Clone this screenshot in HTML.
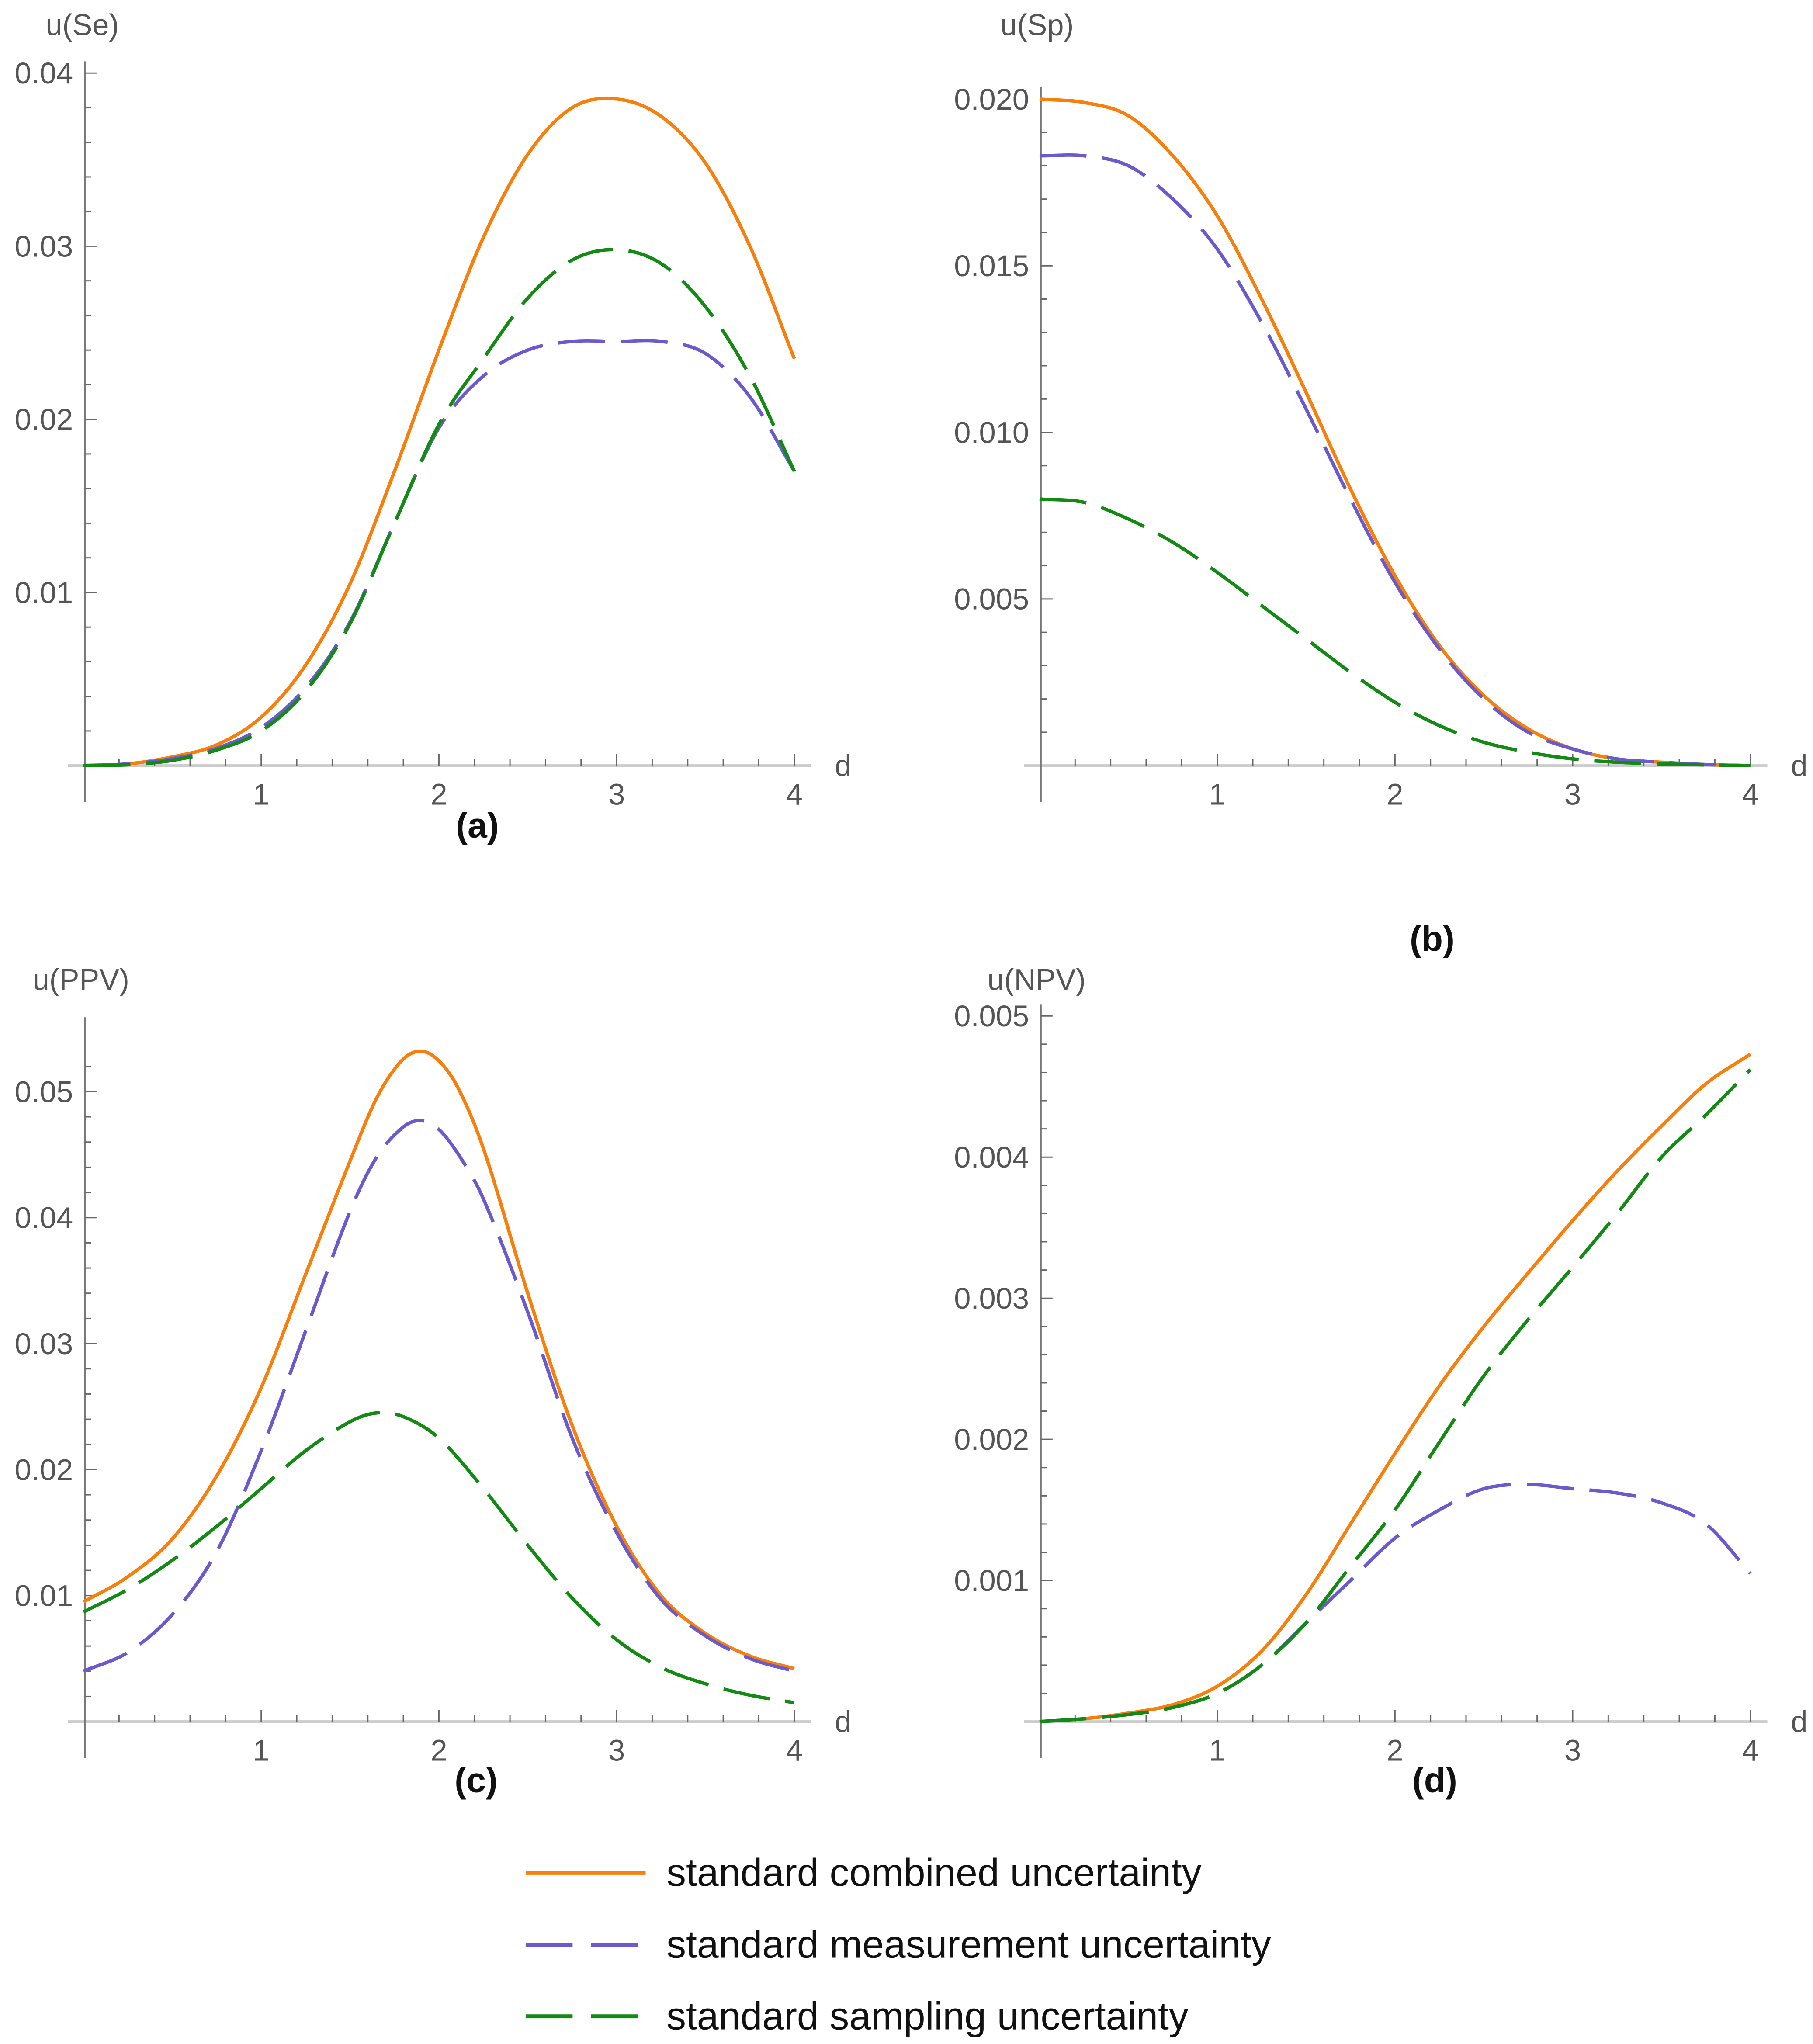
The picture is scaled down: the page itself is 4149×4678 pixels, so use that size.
<!DOCTYPE html>
<html><head><meta charset="utf-8"><style>
html,body{margin:0;padding:0;background:#fff}
svg{display:block}
text{font-family:"Liberation Sans",sans-serif}
</style></head><body>
<svg id="chart" width="4149" height="4678" viewBox="0 0 1390 1567.2" xmlns="http://www.w3.org/2000/svg">
<g id="root"></g>
<g>
  <line x1="403" y1="1436" x2="495" y2="1436" stroke="#f97f0c" stroke-width="3"/>
  <text x="511" y="1446" font-size="30" fill="#111">standard combined uncertainty</text>
  <line x1="403" y1="1491" x2="495" y2="1491" stroke="#6a5acd" stroke-width="3" stroke-dasharray="36,14"/>
  <text x="511" y="1501" font-size="30" fill="#111">standard measurement uncertainty</text>
  <line x1="403" y1="1546" x2="495" y2="1546" stroke="#138a13" stroke-width="3" stroke-dasharray="36,14"/>
  <text x="511" y="1556" font-size="30" fill="#111">standard sampling uncertainty</text>
</g>
</svg>
<script>
// ---- data ----
const dGrid = [0,0.25,0.5,0.75,1,1.25,1.5,1.75,2,2.25,2.5,2.75,3,3.25,3.5,3.75,4];
const seCombined = [0,0.0001,0.0005,0.0012,0.0028,0.0058,0.0105,0.0170,0.0240,0.0305,0.0353,0.0380,0.0385,0.0375,0.0348,0.0300,0.0235];
const seMeasure  = [0,0.0001,0.0004,0.0010,0.0022,0.0045,0.0083,0.0140,0.0195,0.0225,0.0240,0.0245,0.0245,0.0245,0.0238,0.0213,0.0170];
const seSampling = [0,0.00005,0.0003,0.0009,0.0020,0.0043,0.0082,0.0140,0.0197,0.0235,0.0270,0.0292,0.0298,0.0290,0.0265,0.0225,0.0170];
const spCombined = [0.0200,0.0199,0.0195,0.0183,0.0165,0.0140,0.0112,0.0083,0.0057,0.0036,0.0021,0.0011,0.0005,0.0002,0.0001,0.00003,0];
const spMeasure  = [0.0183,0.0183,0.0180,0.0170,0.0155,0.0133,0.0107,0.0080,0.0055,0.0035,0.0020,0.0010,0.0005,0.0002,0.0001,0.00003,0];
const spSampling = [0.0080,0.0079,0.0074,0.0067,0.0058,0.0048,0.0038,0.0028,0.0019,0.0012,0.0007,0.0004,0.0002,0.0001,0.00005,0.00002,0];
const ppvDComb = [0,0.25,0.5,0.75,1,1.25,1.5,1.65,1.78,1.88,1.98,2.1,2.25,2.5,2.75,3,3.25,3.5,3.75,4];
const ppvCombined = [0.0095,0.0115,0.0145,0.0195,0.0265,0.0355,0.0445,0.0495,0.0523,0.0532,0.0527,0.0505,0.0455,0.0340,0.0235,0.0155,0.0100,0.0070,0.0052,0.0042];
const ppvDMeas = [0,0.25,0.5,0.75,1,1.25,1.5,1.65,1.8,1.9,2,2.12,2.25,2.5,2.75,3,3.25,3.5,3.75,4];
const ppvMeasure = [0.0040,0.0055,0.0085,0.0135,0.0215,0.0310,0.0405,0.0448,0.0472,0.0477,0.0470,0.0448,0.0415,0.0325,0.0225,0.0150,0.0097,0.0068,0.0050,0.0040];
const ppvDSamp = [0,0.25,0.5,0.75,1,1.25,1.5,1.65,1.8,2,2.25,2.5,2.75,3,3.25,3.5,3.75,4];
const ppvSampling = [0.0087,0.0105,0.0128,0.0155,0.0185,0.0215,0.0238,0.0245,0.0242,0.0225,0.0185,0.0140,0.0098,0.0065,0.0043,0.0030,0.0021,0.0015];
const npvCombined = [0,0.00002,0.00006,0.00012,0.00025,0.0005,0.0009,0.0014,0.0019,0.00238,0.0028,0.00318,0.00355,0.0039,0.00422,0.00452,0.00473];
const npvMeasure  = [0,0.00002,0.00005,0.0001,0.0002,0.0004,0.0007,0.0010,0.0013,0.0015,0.00165,0.00168,0.00165,0.00162,0.00155,0.0014,0.00105];
const npvSampling = [0,0.00002,0.00005,0.0001,0.0002,0.0004,0.0007,0.0011,0.0015,0.00198,0.00245,0.00285,0.00322,0.0036,0.0040,0.0043,0.00462];
const xTicks = [1,2,3,4];
const seTicks = [0.01,0.02,0.03,0.04];
const spTicks = [0.005,0.010,0.015,0.020];
const ppvTicks = [0.01,0.02,0.03,0.04,0.05];
const npvTicks = [0.001,0.002,0.003,0.004,0.005];

const NS = "http://www.w3.org/2000/svg";
const root = document.getElementById('root');
const COL = {c:"#f97f0c", m:"#6a5acd", s:"#138a13"};

function mk(tag, parent, attrs){
  const e = document.createElementNS(NS, tag);
  for (const k in attrs) e.setAttribute(k, attrs[k]);
  parent.appendChild(e);
  return e;
}
function smoothPath(pts){
  let d = "M" + pts[0][0].toFixed(2) + "," + pts[0][1].toFixed(2);
  for (let i=0;i<pts.length-1;i++){
    const p0 = pts[Math.max(0,i-1)], p1 = pts[i], p2 = pts[i+1], p3 = pts[Math.min(pts.length-1,i+2)];
    const h = p2[0]-p1[0];
    const s1 = (p2[1]-p0[1])/((p2[0]-p0[0])||1), s2 = (p3[1]-p1[1])/((p3[0]-p1[0])||1);
    const c1 = [p1[0]+h/3, p1[1]+s1*h/3];
    const c2 = [p2[0]-h/3, p2[1]-s2*h/3];
    d += " C"+c1[0].toFixed(2)+","+c1[1].toFixed(2)+" "+c2[0].toFixed(2)+","+c2[1].toFixed(2)+" "+p2[0].toFixed(2)+","+p2[1].toFixed(2);
  }
  return d;
}

function panel(cfg){
  const g = mk('g', root, {});
  
  
  const sx = d => cfg.x0 + d*cfg.xu;
  const sy = v => cfg.y0 - v/cfg.vmax*(cfg.y0-cfg.yTop);
  const xa = mk('line', g, {x1:cfg.x0-12, y1:cfg.y0, x2:sx(4)+13, y2:cfg.y0, stroke:"#cccccc", "stroke-width":2});
  
  
  for (let i=1;i<=20;i++){
    const major = i%5===0;
    const t = mk('line', g, {x1:sx(i*0.2), y1:cfg.y0, x2:sx(i*0.2), y2:cfg.y0-(major?9:5), stroke:"#666", "stroke-width":1});
    
    
  }
  xTicks.forEach(v=>{
    const t = mk('text', g, {x:sx(v), y:cfg.y0+30, "font-size":23, fill:"#555", "text-anchor":"middle"});
    t.textContent = String(v);
    
    
  });
  const dl = mk('text', g, {x:sx(4)+31, y:cfg.y0+8, "font-size":23, fill:"#555"});
  dl.textContent = "d";
  
  
  const ya = mk('line', g, {x1:cfg.x0+1, y1:cfg.yAxTop, x2:cfg.x0+1, y2:cfg.y0+28, stroke:"#777", "stroke-width":1.3});
  
  
  const step = cfg.yticks[0]/cfg.minorPer;
  for (let v=step; v<=cfg.vmax*1.05+1e-12; v+=step){
    const idx = Math.round(v/step);
    const major = idx%cfg.minorPer===0;
    const yy = sy(idx*step);
    if (yy < cfg.yAxTop) continue;
    const t = mk('line', g, {x1:cfg.x0+1, y1:yy, x2:cfg.x0+1+(major?9:5), y2:yy, stroke:"#666", "stroke-width":1});
    
    
  }
  cfg.yticks.forEach(v=>{
    const t = mk('text', g, {x:cfg.x0-8, y:sy(v)+8, "font-size":23, fill:"#555", "text-anchor":"end"});
    t.textContent = v.toFixed(cfg.dec);
    
    
  });
  const yt = mk('text', g, {x:cfg.titleX, y:cfg.titleY, "font-size":23, fill:"#555"});
  yt.textContent = cfg.title;
  
  
  const lb = mk('text', g, {x:cfg.labX, y:cfg.labY, "font-size":27, "font-weight":"bold", fill:"#111", "text-anchor":"middle"});
  lb.textContent = cfg.label;
  
  
  cfg.series.forEach(s=>{
    const pts = s.d.map((d,i)=>[sx(d), sy(s.v[i])]);
    const p = mk('path', g, {d:smoothPath(pts), fill:"none", stroke:COL[s.k], "stroke-width":2.6, "stroke-linejoin":"round"});
    if (s.k!=='c') p.setAttribute('stroke-dasharray', '36,12');
    
    
  });
}

panel({name:"panel-a-se", x0:64, xu:136.25, y0:587, yTop:56, vmax:0.04, yAxTop:47, yticks:seTicks, minorPer:5, dec:2,
  title:"u(Se)", titleX:35, titleY:27, label:"(a)", labX:366, labY:642,
  series:[{k:'c',d:dGrid,v:seCombined,name:'line-combined'},{k:'m',d:dGrid,v:seMeasure,name:'line-measurement'},{k:'s',d:dGrid,v:seSampling,name:'line-sampling'}]});
panel({name:"panel-b-sp", x0:797, xu:136.25, y0:587, yTop:76, vmax:0.020, yAxTop:67, yticks:spTicks, minorPer:5, dec:3,
  title:"u(Sp)", titleX:767, titleY:27, label:"(b)", labX:1098, labY:729,
  series:[{k:'c',d:dGrid,v:spCombined,name:'line-combined'},{k:'m',d:dGrid,v:spMeasure,name:'line-measurement'},{k:'s',d:dGrid,v:spSampling,name:'line-sampling'}]});
panel({name:"panel-c-ppv", x0:64, xu:136.25, y0:1320, yTop:837, vmax:0.05, yAxTop:780, yticks:ppvTicks, minorPer:5, dec:2,
  title:"u(PPV)", titleX:25, titleY:759, label:"(c)", labX:365, labY:1374,
  series:[{k:'c',d:ppvDComb,v:ppvCombined,name:'line-combined'},{k:'m',d:ppvDMeas,v:ppvMeasure,name:'line-measurement'},{k:'s',d:ppvDSamp,v:ppvSampling,name:'line-sampling'}]});
panel({name:"panel-d-npv", x0:797, xu:136.25, y0:1320, yTop:779, vmax:0.005, yAxTop:770, yticks:npvTicks, minorPer:5, dec:3,
  title:"u(NPV)", titleX:757, titleY:759, label:"(d)", labX:1100, labY:1374,
  series:[{k:'c',d:dGrid,v:npvCombined,name:'line-combined'},{k:'m',d:dGrid,v:npvMeasure,name:'line-measurement'},{k:'s',d:dGrid,v:npvSampling,name:'line-sampling'}]});
</script>
</body></html>
